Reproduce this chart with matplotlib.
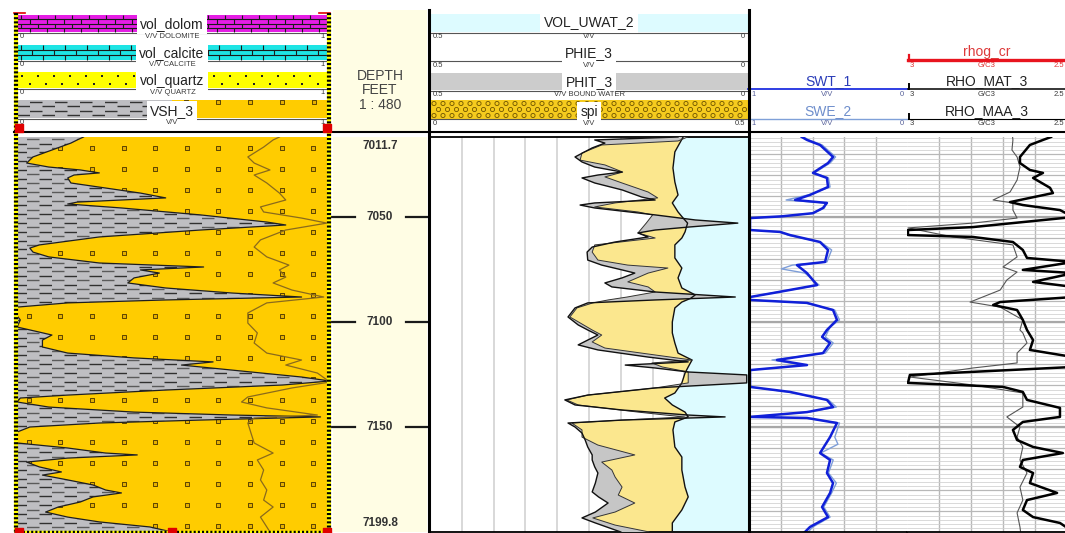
import numpy as np
import matplotlib
matplotlib.use("Agg")
import matplotlib.pyplot as plt
from matplotlib.patches import Polygon, Rectangle
from matplotlib.collections import LineCollection

plt.rcParams['font.family'] = ['Liberation Sans', 'DejaVu Sans']

ANCHO, ALTO = 1065, 533
TOPE, BASE = 7011.7, 7199.8

# curvas como (profundidad ft, valor)
vsh_3 = [(7011.7, 0.22), (7013.1, 0.20), (7014.6, 0.18), (7017.9, 0.12), (7021.2, 0.06), (7024.1, 0.04),
         (7026.0, 0.11), (7027.4, 0.21), (7028.8, 0.27), (7029.8, 0.19), (7031.2, 0.17), (7033.6, 0.18),
         (7038.4, 0.40), (7040.7, 0.48), (7042.7, 0.20), (7043.6, 0.17), (7045.5, 0.34), (7048.8, 0.59),
         (7052.2, 0.80), (7053.6, 0.86), (7056.0, 0.59), (7059.3, 0.27), (7063.1, 0.08), (7064.6, 0.05),
         (7066.5, 0.06), (7068.8, 0.11), (7071.7, 0.27), (7073.6, 0.60), (7075.0, 0.40), (7076.5, 0.46),
         (7078.8, 0.38), (7081.2, 0.36), (7083.6, 0.48), (7086.0, 0.69), (7087.9, 0.91), (7089.3, 0.48),
         (7090.7, 0.17), (7092.7, 0.01), (7095.0, 0.00), (7098.8, 0.02), (7102.2, 0.01), (7104.6, 0.08),
         (7106.0, 0.12), (7108.4, 0.09), (7111.7, 0.09), (7114.6, 0.17), (7116.9, 0.38), (7118.8, 0.63),
         (7120.3, 0.53), (7122.7, 0.69), (7126.0, 0.91), (7127.9, 1.00), (7129.8, 0.85), (7132.2, 0.48),
         (7134.6, 0.17), (7136.0, 0.02), (7137.9, 0.01), (7140.3, 0.11), (7142.7, 0.38), (7144.1, 0.69),
         (7145.0, 0.97), (7146.5, 0.59), (7147.9, 0.27), (7149.8, 0.05), (7152.2, 0.01), (7154.6, 0.01),
         (7156.9, 0.00), (7157.4, 0.01), (7159.8, 0.17), (7162.2, 0.29), (7163.1, 0.39), (7164.6, 0.17),
         (7166.5, 0.04), (7168.8, 0.08), (7171.2, 0.15), (7172.7, 0.09), (7175.0, 0.17), (7177.4, 0.25),
         (7179.8, 0.29), (7181.2, 0.34), (7183.1, 0.25), (7185.5, 0.21), (7187.9, 0.14), (7190.3, 0.10),
         (7192.7, 0.17), (7195.0, 0.27), (7197.4, 0.43), (7199.8, 0.50)]

vol_cuarzo = [(7011.7, 0.84), (7013.1, 0.82), (7016.5, 0.79), (7021.2, 0.74), (7024.1, 0.76), (7027.4, 0.81),
              (7029.8, 0.76), (7033.6, 0.80), (7038.4, 0.84), (7041.7, 0.86), (7045.0, 0.78), (7047.4, 0.79),
              (7050.3, 0.91), (7052.7, 0.99), (7056.0, 0.86), (7060.7, 0.78), (7064.1, 0.76), (7068.8, 0.80),
              (7072.7, 0.87), (7075.0, 0.84), (7078.4, 0.86), (7081.2, 0.82), (7084.6, 0.88), (7087.9, 0.98),
              (7090.7, 0.80), (7095.5, 0.74), (7100.3, 0.74), (7105.0, 0.77), (7109.8, 0.76), (7114.6, 0.80),
              (7117.9, 0.91), (7120.3, 0.86), (7124.1, 0.96), (7128.4, 1.00), (7131.2, 0.88), (7135.5, 0.74),
              (7137.9, 0.72), (7140.7, 0.80), (7144.1, 0.96), (7145.5, 0.76), (7147.9, 0.74), (7152.7, 0.75),
              (7157.4, 0.76), (7162.2, 0.82), (7165.5, 0.77), (7170.3, 0.79), (7175.0, 0.78), (7179.8, 0.80),
              (7184.6, 0.79), (7187.9, 0.82), (7192.7, 0.78), (7197.4, 0.80), (7199.8, 0.81)]

phit_3 = [(7011.7, 0.110), (7013.1, 0.241), (7014.6, 0.225), (7016.9, 0.245), (7021.2, 0.272), (7023.6, 0.261),
          (7026.0, 0.241), (7028.4, 0.198), (7029.8, 0.236), (7031.2, 0.261), (7033.6, 0.241), (7036.9, 0.198),
          (7040.3, 0.167), (7041.7, 0.146), (7043.1, 0.241), (7044.1, 0.264), (7045.5, 0.241), (7048.8, 0.146),
          (7051.2, 0.083), (7052.7, 0.016), (7054.6, 0.094), (7056.0, 0.146), (7057.4, 0.173), (7059.3, 0.157),
          (7061.7, 0.209), (7064.1, 0.245), (7066.5, 0.253), (7070.3, 0.252), (7072.7, 0.230), (7075.0, 0.198),
          (7076.5, 0.178), (7078.8, 0.198), (7081.2, 0.225), (7083.1, 0.214), (7085.5, 0.146), (7087.9, 0.020),
          (7089.3, 0.146), (7090.7, 0.252), (7093.1, 0.272), (7097.4, 0.283), (7101.2, 0.267), (7103.6, 0.252),
          (7106.0, 0.236), (7108.4, 0.252), (7110.7, 0.267), (7113.1, 0.236), (7116.5, 0.157), (7118.8, 0.094),
          (7120.3, 0.193), (7121.7, 0.146), (7123.6, 0.094), (7125.0, 0.002), (7128.8, 0.002), (7131.2, 0.146),
          (7134.6, 0.252), (7136.9, 0.288), (7139.3, 0.272), (7141.7, 0.198), (7144.1, 0.094), (7145.0, 0.036),
          (7146.5, 0.198), (7147.9, 0.283), (7149.8, 0.272), (7152.7, 0.261), (7156.0, 0.256), (7159.3, 0.252),
          (7163.1, 0.245), (7165.5, 0.245), (7168.8, 0.241), (7171.7, 0.236), (7176.5, 0.240), (7180.7, 0.245),
          (7183.1, 0.235), (7186.0, 0.220), (7190.3, 0.240), (7193.1, 0.261), (7195.5, 0.240), (7199.8, 0.200)]

phie_3 = [(7011.7, 0.095), (7013.6, 0.110), (7015.5, 0.230), (7019.3, 0.261), (7022.7, 0.264), (7025.0, 0.225),
          (7028.4, 0.197), (7030.7, 0.225), (7033.6, 0.198), (7037.9, 0.157), (7040.7, 0.142), (7043.1, 0.209),
          (7045.0, 0.241), (7047.4, 0.173), (7048.8, 0.150), (7052.7, 0.160), (7057.4, 0.173), (7059.8, 0.146),
          (7063.1, 0.241), (7066.5, 0.245), (7070.3, 0.236), (7072.7, 0.189), (7074.1, 0.126), (7076.5, 0.157),
          (7080.7, 0.189), (7083.1, 0.157), (7085.5, 0.146), (7087.9, 0.190), (7089.3, 0.220), (7090.7, 0.244),
          (7093.1, 0.269), (7097.4, 0.280), (7103.6, 0.245), (7106.0, 0.230), (7109.3, 0.245), (7112.2, 0.225),
          (7115.5, 0.146), (7117.9, 0.088), (7119.3, 0.151), (7121.2, 0.135), (7123.6, 0.094), (7128.8, 0.094),
          (7131.2, 0.146), (7134.6, 0.252), (7136.9, 0.285), (7139.3, 0.267), (7142.7, 0.173), (7144.1, 0.130),
          (7145.0, 0.100), (7146.5, 0.198), (7147.9, 0.277), (7151.2, 0.261), (7154.6, 0.261), (7158.4, 0.236),
          (7163.1, 0.178), (7166.5, 0.230), (7170.3, 0.214), (7173.6, 0.209), (7178.4, 0.198), (7182.2, 0.204),
          (7186.0, 0.178), (7190.3, 0.209), (7193.1, 0.244), (7196.5, 0.209), (7199.8, 0.155)]

vol_uwat_2 = [(7011.7, 0.102), (7018.8, 0.115), (7026.5, 0.118), (7033.1, 0.115), (7039.3, 0.110), (7043.1, 0.119),
              (7047.4, 0.110), (7050.3, 0.102), (7052.7, 0.095), (7056.9, 0.099), (7059.8, 0.104), (7063.1, 0.115),
              (7069.3, 0.115), (7074.1, 0.104), (7078.8, 0.110), (7083.6, 0.104), (7086.9, 0.083), (7088.5, 0.090),
              (7090.3, 0.104), (7093.1, 0.115), (7099.8, 0.119), (7105.0, 0.119), (7109.8, 0.115), (7114.6, 0.110),
              (7117.9, 0.088), (7121.2, 0.094), (7124.1, 0.099), (7128.8, 0.104), (7133.6, 0.115), (7136.0, 0.131),
              (7139.3, 0.119), (7142.7, 0.099), (7145.0, 0.094), (7147.4, 0.115), (7151.2, 0.118), (7159.3, 0.115),
              (7164.1, 0.104), (7170.3, 0.104), (7178.4, 0.099), (7183.1, 0.094), (7189.3, 0.104), (7195.5, 0.119),
              (7199.8, 0.119)]

swt_1 = [(7011.7, 0.67), (7013.1, 0.637), (7015.5, 0.554), (7021.2, 0.471), (7024.1, 0.503), (7028.8, 0.599),
         (7031.2, 0.510), (7035.5, 0.503), (7039.3, 0.618), (7041.7, 0.713), (7043.1, 0.510), (7045.5, 0.535),
         (7048.0, 0.60), (7049.5, 0.80), (7050.3, 1.0), (7056.0, 1.0), (7056.9, 0.809), (7058.4, 0.745),
         (7061.7, 0.554), (7065.5, 0.503), (7071.2, 0.522), (7072.7, 0.701), (7076.5, 0.637), (7082.2, 0.573),
         (7086.0, 0.854), (7087.9, 1.0), (7089.3, 1.0), (7090.7, 0.637), (7094.1, 0.471), (7098.8, 0.446),
         (7103.6, 0.510), (7106.9, 0.541), (7109.8, 0.490), (7114.6, 0.535), (7117.9, 0.828), (7120.3, 0.637),
         (7122.7, 1.0), (7130.7, 1.0), (7133.1, 0.745), (7136.9, 0.510), (7140.3, 0.471), (7142.7, 0.637),
         (7145.0, 1.0), (7145.5, 0.637), (7147.9, 0.446), (7154.6, 0.490), (7162.2, 0.554), (7165.5, 0.490),
         (7171.7, 0.510), (7176.5, 0.471), (7181.2, 0.490), (7187.9, 0.541), (7192.7, 0.503), (7197.4, 0.618),
         (7199.8, 0.65)]

swe_2 = [(7011.7, 0.66), (7013.1, 0.625), (7015.5, 0.54), (7021.2, 0.455), (7024.1, 0.49), (7028.8, 0.59),
         (7031.2, 0.50), (7035.5, 0.49), (7039.3, 0.63), (7041.7, 0.77), (7043.1, 0.52), (7045.5, 0.525),
         (7048.0, 0.60), (7049.5, 0.80), (7050.3, 1.0), (7056.0, 1.0), (7056.9, 0.80), (7058.4, 0.76),
         (7061.7, 0.55), (7065.5, 0.48), (7071.2, 0.51), (7072.7, 0.73), (7074.5, 0.80), (7076.5, 0.65),
         (7082.2, 0.56), (7086.0, 0.86), (7087.9, 1.0), (7089.3, 1.0), (7090.7, 0.65), (7094.1, 0.46),
         (7098.8, 0.43), (7102.2, 0.49), (7106.9, 0.52), (7109.8, 0.47), (7114.6, 0.52), (7117.9, 0.86),
         (7120.3, 0.66), (7122.7, 1.0), (7130.7, 1.0), (7133.1, 0.76), (7136.9, 0.50), (7140.3, 0.45),
         (7142.7, 0.63), (7145.0, 1.0), (7145.5, 0.65), (7147.9, 0.43), (7154.6, 0.46), (7158.0, 0.44),
         (7162.2, 0.55), (7165.5, 0.47), (7171.7, 0.50), (7176.5, 0.45), (7181.2, 0.48), (7187.9, 0.53),
         (7192.7, 0.49), (7197.4, 0.60), (7199.8, 0.63)]

rho_mat_3 = [(7011.7, 2.55), (7013.1, 2.575), (7015.5, 2.616), (7021.2, 2.647), (7024.1, 2.647), (7027.4, 2.616),
             (7028.8, 2.575), (7031.2, 2.606), (7035.9, 2.553), (7038.4, 2.544), (7040.7, 2.616), (7042.7, 2.678),
             (7044.1, 2.638), (7046.5, 2.522), (7049.8, 2.48), (7054.6, 2.794), (7056.0, 2.997), (7058.4, 2.997),
             (7059.3, 2.794), (7061.7, 2.669), (7065.5, 2.638), (7069.3, 2.625), (7071.2, 2.48), (7075.0, 2.638),
             (7076.5, 2.48), (7080.7, 2.606), (7083.1, 2.48), (7087.9, 2.48), (7090.3, 2.709), (7091.7, 2.731),
             (7094.1, 2.656), (7098.8, 2.638), (7103.6, 2.625), (7108.4, 2.606), (7113.1, 2.616), (7116.5, 2.48),
             (7121.2, 2.48), (7125.0, 2.991), (7128.8, 2.997), (7130.7, 2.700), (7133.1, 2.638), (7136.9, 2.625),
             (7140.7, 2.522), (7145.0, 2.522), (7147.4, 2.638), (7151.2, 2.669), (7156.0, 2.656), (7159.3, 2.606),
             (7162.2, 2.513), (7165.5, 2.638), (7168.8, 2.647), (7171.7, 2.606), (7176.5, 2.616), (7181.2, 2.531),
             (7184.6, 2.625), (7189.3, 2.638), (7192.7, 2.606), (7195.5, 2.522), (7199.8, 2.48)]

rho_maa_3 = [(7011.7, 2.67), (7013.1, 2.669), (7017.9, 2.672), (7021.2, 2.656), (7026.0, 2.647), (7032.2, 2.656),
             (7037.9, 2.678), (7041.7, 2.731), (7043.1, 2.669), (7046.5, 2.669), (7050.3, 2.656), (7052.7, 2.794),
             (7055.0, 2.997), (7059.3, 2.856), (7063.1, 2.669), (7068.8, 2.656), (7073.6, 2.700), (7076.0, 2.656),
             (7079.8, 2.688), (7084.6, 2.709), (7090.3, 2.803), (7092.7, 2.709), (7098.8, 2.638), (7103.6, 2.647),
             (7105.0, 2.638), (7109.8, 2.625), (7114.6, 2.656), (7119.3, 2.656), (7121.7, 2.794), (7126.0, 2.991),
             (7129.8, 2.794), (7133.6, 2.638), (7140.3, 2.638), (7145.0, 2.688), (7149.8, 2.647), (7154.6, 2.656),
             (7159.3, 2.638), (7165.5, 2.647), (7171.7, 2.625), (7178.4, 2.647), (7184.6, 2.638), (7190.7, 2.656),
             (7197.4, 2.647), (7199.8, 2.645)]

marcas_prof = [7050, 7100, 7150]


def separar(curva):
    d, v = zip(*curva)
    return np.array(d), np.array(v)


fig = plt.figure(figsize=(ANCHO / 100, ALTO / 100), dpi=100)


def panel(x0, y0, x1, y1):
    return fig.add_axes([x0 / ANCHO, 1 - y1 / ALTO, (x1 - x0) / ANCHO, (y1 - y0) / ALTO])


def pista(x0, x1, xlim):
    ax = panel(x0, 137, x1, 532)
    ax.set_xlim(*xlim)
    ax.set_ylim(BASE, TOPE)
    ax.tick_params(which='both', length=0, labelleft=False, labelbottom=False)
    for s in ax.spines.values():
        s.set_visible(False)
    return ax


def rejilla(ax, verticales):
    ax.set_xticks(verticales)
    ax.set_yticks(np.arange(7020, 7200, 10))
    ax.set_yticks(np.arange(7012, 7200, 2), minor=True)
    ax.grid(which='minor', axis='y', color='#D0D0D0', lw=0.55)
    ax.grid(which='major', axis='y', color='#B8B8B8', lw=0.9)
    ax.grid(which='major', axis='x', color='#B8B8B8', lw=1.0)
    for p in marcas_prof:
        ax.axhline(p, color='#A8A8A8', lw=1.6, zorder=0.6)
    ax.set_axisbelow(True)


# ---- pista 1: litologia ----
ax1 = pista(14, 330, (0, 1))
d, v = separar(vsh_3)
lutita = Polygon(np.column_stack([np.r_[0, v, 0], np.r_[d[0], d, d[-1]]]),
                 closed=True, facecolor='#BEBEC2', edgecolor='none')
arena = Polygon(np.column_stack([np.r_[1, v, 1], np.r_[d[0], d, d[-1]]]),
                closed=True, facecolor='#FFCC00', edgecolor='none')
ax1.add_patch(arena)
ax1.add_patch(lutita)
for k, prof in enumerate(np.arange(TOPE + 1.0, BASE, 2.1)):
    ln, = ax1.plot([0, 1], [prof, prof], color='#303030' if k % 2 else '#5A5A5A', lw=1.0,
                   ls=(0 if k % 2 else 9, (9, 9)))
    ln.set_clip_path(lutita)
cx, cy = np.meshgrid(np.arange(0.047, 1, 0.1), np.arange(7016.9, BASE, 10))
granos = ax1.scatter(cx.ravel(), cy.ravel(), marker='s', s=6, facecolor='#E6B000',
                     edgecolor='#5E4500', linewidths=0.7, zorder=3)
granos.set_clip_path(arena)
ax1.plot(v, d, color='#1E1E1E', lw=0.9, zorder=4)
dq, vq = separar(vol_cuarzo)
ax1.plot(vq, dq, color='#8A6A1C', lw=0.9, zorder=4)

# ---- pista de profundidad ----
axp = pista(333, 427, (0, 1))
axp.set_facecolor('#FFFDE4')
for p in marcas_prof:
    axp.text(0.5, p, str(p), ha='center', va='center', fontsize=8.5, weight='bold', color='#333333')
    axp.plot([-0.04, 0.23], [p, p], color='#1A1A1A', lw=1.6, clip_on=False)
    axp.plot([0.78, 1.0], [p, p], color='#1A1A1A', lw=1.6, clip_on=False)
axp.text(0.5, TOPE + 1.2, f'{TOPE}', ha='center', va='top', fontsize=8.5, weight='bold', color='#333333')
axp.text(0.5, BASE - 1.5, f'{BASE}', ha='center', va='bottom', fontsize=8.5, weight='bold', color='#333333')

# ---- pista 3: porosidad ----
ax3 = pista(430, 748, (0.5, 0))
ax3.set_xticks(np.arange(0.05, 0.5, 0.05))
ax3.grid(axis='x', color='#D2D2D2', lw=1.2)
ax3.set_axisbelow(True)
dt, vt = separar(phit_3)
de, ve = separar(phie_3)
dw, vw = separar(vol_uwat_2)
ax3.fill_betweenx(dw, vw, 0, color='#DDFBFF', lw=0, zorder=1)
ax3.fill(np.r_[ve, vw[::-1]], np.r_[de, dw[::-1]], color='#FBE78E', lw=0, zorder=2)
ax3.fill(np.r_[vt, ve[::-1]], np.r_[dt, de[::-1]], color='#C6C6C6', lw=0, zorder=3)
ax3.plot(vw, dw, color='#111111', lw=1.0, zorder=4)
ax3.plot(ve, de, color='#333333', lw=0.7, zorder=4)
ax3.plot(vt, dt, color='#111111', lw=1.0, zorder=4)
for lado in ('top', 'bottom'):
    ax3.spines[lado].set_visible(True)
    ax3.spines[lado].set_linewidth(1.3)

# ---- pista 4: saturacion ----
ax4 = pista(750, 907, (1, 0))
rejilla(ax4, np.arange(0.2, 1.0, 0.2))
ds, vs = separar(swe_2)
ax4.plot(vs, ds, color='#7E9ED8', lw=1.0)
ds, vs = separar(swt_1)
ax4.plot(vs, ds, color='#1020D8', lw=1.8)
ax4.spines['bottom'].set_visible(True)
ax4.spines['bottom'].set_linewidth(1.3)

# ---- pista 5: densidad de matriz ----
ax5 = pista(907, 1067, (3.0, 2.5))
rejilla(ax5, np.arange(2.6, 3.0, 0.1))
dr, vr = separar(rho_maa_3)
ax5.plot(vr, dr, color='#555555', lw=0.8)
dr, vr = separar(rho_mat_3)
ax5.plot(vr, dr, color='#000000', lw=1.8)
ax5.spines['bottom'].set_visible(True)
ax5.spines['bottom'].set_linewidth(1.3)

# ---- cabeceras y bordes (coordenadas en pixeles) ----
ov = panel(0, 0, ANCHO, ALTO)
ov.set_xlim(0, ANCHO)
ov.set_ylim(ALTO, 0)
ov.axis('off')


def escala(x0, x1, y, izq, centro, der, color='#3A3A3A'):
    kw = dict(fontsize=5.5, va='top', color=color)
    ov.text(x0 + 3, y, izq, ha='left', **kw)
    ov.text((x0 + x1) / 2, y, centro, ha='center', **kw)
    ov.text(x1 - 3, y, der, ha='right', **kw)


def rotulo(x, y, texto, color='#222222', caja=True):
    ov.text(x, y, texto, ha='center', va='center', fontsize=10, color=color,
            bbox=dict(facecolor='white', edgecolor='none', boxstyle='square,pad=0.25')
            if caja else None)


def ladrillos(x0, x1, y0, y1, filas, paso, color):
    ov.add_patch(Rectangle((x0, y0), x1 - x0, y1 - y0, facecolor=color, edgecolor='none'))
    alto = (y1 - y0) / filas
    segs = [[(x0, y0 + i * alto), (x1, y0 + i * alto)] for i in range(1, filas)]
    for i in range(filas):
        inicio = x0 + 4 + (paso / 2 if i % 2 else 0)
        for x in np.arange(inicio, x1, paso):
            segs.append([(x, y0 + i * alto), (x, y0 + (i + 1) * alto)])
    ov.add_collection(LineCollection(segs, colors='#1A1A1A', linewidths=0.8))


# pista 1
ladrillos(17, 328, 15, 32, 4, 17, '#E41EE4')
rotulo(172, 24, 'vol_dolom')
ov.plot([17, 328], [32.5, 32.5], color='#555555', lw=0.8)
escala(17, 328, 33, '0', 'V/V DOLOMITE', '1')
ladrillos(17, 328, 45, 60, 3, 22, '#1EE4E4')
rotulo(172, 53, 'vol_calcite')
ov.plot([17, 328], [60.5, 60.5], color='#555555', lw=0.8)
escala(17, 328, 61.5, '0', 'V/V CALCITE', '1')
ov.add_patch(Rectangle((17, 72), 311, 16, facecolor='#FFFF00', edgecolor='none'))
for fila, desf in ((76, 0), (84, 8)):
    xs = np.arange(22 + desf, 326, 16)
    ov.scatter(xs, np.full(len(xs), fila), marker='s', s=2.5, color='#222222', linewidths=0)
rotulo(172, 81, 'vol_quartz')
ov.plot([17, 328], [88.5, 88.5], color='#555555', lw=0.8)
escala(17, 328, 89.5, '0', 'V/V QUARTZ', '1')
ov.add_patch(Rectangle((17, 100), 155, 18, facecolor='#BEBEC2', edgecolor='none'))
ov.add_patch(Rectangle((172, 100), 156, 18, facecolor='#FFCC00', edgecolor='none'))
for k, fila in enumerate((101.5, 106, 110.5, 115)):
    ov.plot([17, 172], [fila, fila], color='#333333', lw=1.0, ls=(0 if k % 2 else 9, (9, 9)))
ov.scatter(np.arange(186, 326, 32), np.full(5, 101.5), marker='s', s=5,
           facecolor='#E6B000', edgecolor='#5E4500', linewidths=0.7)
rotulo(172, 111, 'VSH_3')
ov.plot([17, 328], [118.5, 118.5], color='#555555', lw=0.8)
escala(17, 328, 119.5, '0', 'V/V', '1')
ov.scatter([19, 327], [128, 128], marker='s', s=40, color='#E00000', zorder=5)
ov.plot([14, 25], [12.5, 12.5], color='#E00000', lw=1.2)
ov.plot([319, 330], [12.5, 12.5], color='#E00000', lw=1.2)
for x in (15.5, 329):
    ov.plot([x, x], [13, 532], color='#FFFF00', lw=3, solid_capstyle='butt')
    ov.plot([x, x], [13, 532], color='#000000', lw=3, ls=(0, (0.5, 0.5)))
ov.plot([14, 330], [531.5, 531.5], color='#FFFF00', lw=2.5, solid_capstyle='butt')
ov.plot([14, 330], [531.5, 531.5], color='#000000', lw=2.5, ls=(0, (0.6, 0.6)))
ov.scatter([19, 172, 327], [532, 532, 532], marker='s', s=40, color='#E00000', zorder=5, clip_on=False)

# profundidad
ov.add_patch(Rectangle((333, 10), 94, 121, facecolor='#FFFDE4', edgecolor='none'))
for y, t in ((76, 'DEPTH'), (89.5, 'FEET'), (105, '1 : 480')):
    ov.text(380, y, t, ha='center', va='center', fontsize=10, color='#444444')

# pista 3
ov.add_patch(Rectangle((430, 14), 318, 18, facecolor='#DDFBFF', edgecolor='none'))
rotulo(589, 22.5, 'VOL_UWAT_2')
ov.plot([430, 748], [32.5, 32.5], color='#555555', lw=0.8)
escala(430, 748, 33.5, '0.5', 'V/V', '0')
rotulo(589, 53, 'PHIE_3')
ov.plot([430, 748], [61, 61], color='#555555', lw=0.8)
escala(430, 748, 62, '0.5', 'V/V', '0')
ov.add_patch(Rectangle((430, 73), 318, 17, facecolor='#CCCCCC', edgecolor='none'))
rotulo(589, 82, 'PHIT_3')
ov.plot([430, 748], [90.5, 90.5], color='#555555', lw=0.8)
escala(430, 748, 91, '0.5', 'V/V BOUND WATER', '0')
ov.add_patch(Rectangle((430, 100), 318, 18.5, facecolor='#F5CB1E', edgecolor='none'))
for k, fila in enumerate((103.5, 109.5, 115.5)):
    xs = np.arange(434 + (4.5 if k % 2 else 0), 746, 9)
    ov.scatter(xs, np.full(len(xs), fila), marker='o', s=9, facecolor='none',
               edgecolor='#6E5400', linewidths=0.6)
rotulo(589, 112, 'spi')
ov.plot([430, 748], [119, 119], color='#555555', lw=0.8)
escala(430, 748, 120, '0', 'V/V', '0.5')

# pista 4
rotulo(828, 81, 'SWT_1', color='#2A3CB8', caja=False)
ov.plot([748, 907], [89, 89], color='#1F2FE0', lw=1.3)
escala(748, 907, 90.5, '1', 'V/V', '0', color='#56609A')
rotulo(828, 111, 'SWE_2', color='#6E8ECC', caja=False)
ov.plot([748, 907], [118.5, 118.5], color='#7FA0D8', lw=1.0)
escala(748, 907, 120, '1', 'V/V', '0', color='#56609A')

# pista 5
rotulo(987, 52, 'rhog_cr', color='#DD3A3A', caja=False)
ov.plot([908, ANCHO], [60, 60], color='#E8141E', lw=2.4)
ov.plot([908.5, 908.5], [54.5, 61], color='#E8141E', lw=1.6)
escala(907, 1067, 62, '3', 'G/C3', '2.5', color='#E03030')
rotulo(987, 81, 'RHO_MAT_3', caja=False)
ov.plot([908, ANCHO], [89, 89], color='#000000', lw=1.1)
ov.plot([908.5, 908.5], [84, 89], color='#000000', lw=1.4)
escala(907, 1067, 90.5, '3', 'G/C3', '2.5')
rotulo(987, 111, 'RHO_MAA_3', caja=False)
ov.plot([908, ANCHO], [118.5, 118.5], color='#000000', lw=0.8)
ov.plot([908.5, 908.5], [113.5, 118.5], color='#000000', lw=1.4)
escala(907, 1067, 120, '3', 'G/C3', '2.5')

# separadores
ov.plot([14, ANCHO], [132, 132], color='#000000', lw=1.5)
ov.plot([429, 429], [10, ALTO], color='#000000', lw=2.2)
ov.plot([748.5, 748.5], [10, ALTO], color='#000000', lw=2.2)

fig.savefig('out.png', dpi=100)
